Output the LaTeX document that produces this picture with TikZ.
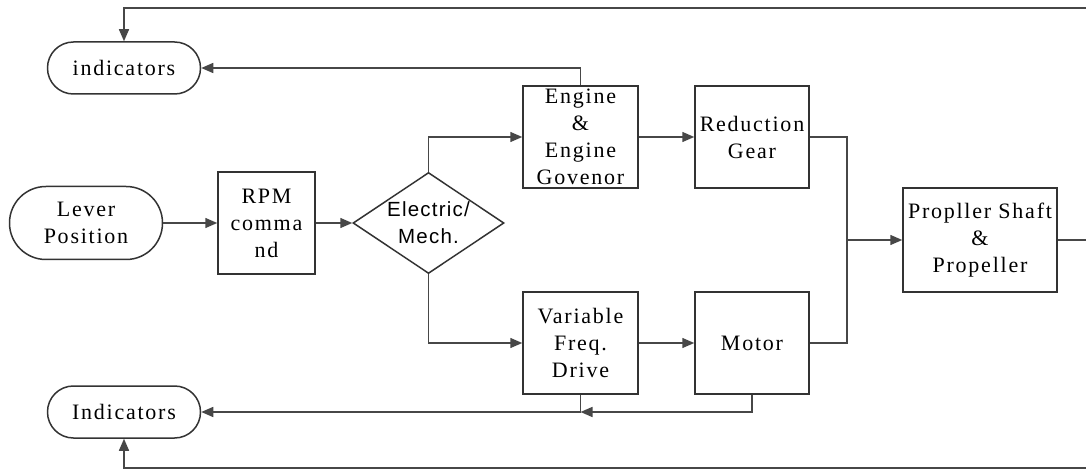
\documentclass[tikz,border=0pt]{standalone}
\usepackage{fontspec}
\setmainfont{Liberation Serif}
\newfontfamily\boxfont[LetterSpace=8]{Liberation Serif}
\newfontfamily\diafont[LetterSpace=6]{Liberation Sans}
\usetikzlibrary{arrows.meta,shapes.geometric}
\begin{document}
\begin{tikzpicture}[x=1pt,y=-1pt,
  box/.style={draw=black!80,line width=1.5pt,minimum width=115pt,minimum height=102pt,
    inner sep=0pt,align=center,font=\boxfont\fontsize{22}{27}\selectfont},
  pill/.style={draw=black!80,line width=1.5pt,rounded corners=25.9pt,minimum width=153pt,
    minimum height=52pt,inner sep=0pt,align=center,font=\boxfont\fontsize{22}{27}\selectfont},
  dec/.style={draw=black!80,line width=1.5pt,diamond,minimum width=151pt,minimum height=101pt,inner sep=0pt},
  dtext/.style={inner sep=0pt,align=center,font=\diafont\fontsize{20.5}{27}\selectfont},
  conn/.style={draw=black!72,line width=1.5pt},
  arr/.style={conn,-{Triangle[length=12pt,width=10pt]}}]
\useasboundingbox (0,0) rectangle (1086,470);

% nodes
\node[pill] (ind1) at (124,68) {indicators};
\node[pill,minimum height=73pt,rounded corners=36.4pt] (lever) at (86,223) {Lever\\Position};
\node[box,minimum width=97pt] (rpm) at (266.5,223) {RPM\\comma\\nd};
\node[dec] (dia) at (428.5,223) {};
\node[dtext] (diatxt) at (dia) {Electric/\\Mech.};
\node[box] (eng) at (580.5,137) {Engine\\\&\\Engine\\Govenor};
\node[box,minimum width=114pt] (red) at (752,137) {Reduction\\Gear};
\node[box,minimum width=154pt,minimum height=104pt] (prop) at (980,240) {Propller Shaft\\\&\\Propeller};
\node[box] (vfd) at (580.5,343) {Variable\\Freq.\\Drive};
\node[box,minimum width=114pt] (mot) at (752,343) {Motor};
\node[pill] (ind2) at (124,412) {Indicators};

% free ends and junctions
\coordinate (tr) at (1086,8);
\coordinate (pr) at (1086,240);
\coordinate (br) at (1086,468);
\coordinate (jn) at (847,240);

% connectors
\draw[arr] (lever) -- (rpm);
\draw[arr] (rpm) -- (dia.west);
\draw[arr] (dia.north) |- (eng.west);
\draw[arr] (dia.south) |- (vfd.west);
\draw[arr] (eng) -- (red);
\draw[arr] (vfd) -- (mot);
\draw[conn] (red.east) -| (jn);
\draw[conn] (mot.east) -| (jn);
\draw[arr] (jn) -- (prop.west);
\draw[conn] (prop.east) -- (pr);
\draw[arr] (eng.north) |- (ind1.east);
\draw[arr] (tr) -| (ind1.north);
\draw[arr] (mot.south) |- (vfd.south |- ind2.east);
\draw[arr] (vfd.south) |- (ind2.east);
\draw[arr] (br) -| (ind2.south);
\end{tikzpicture}
\end{document}
